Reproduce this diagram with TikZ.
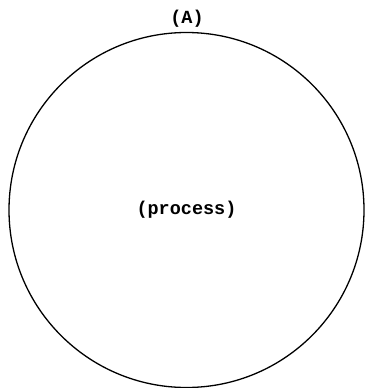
\documentclass[tikz,border=0pt]{standalone}
\usepackage{fontspec}
\newfontfamily\typefont{Liberation Mono}
\begin{document}
\begin{tikzpicture}[x=1pt,y=-1pt,
  lbl/.style={font=\typefont\bfseries\fontsize{18.5}{20}\selectfont, inner sep=0pt},
  proc/.style={circle, draw, line width=1.3pt, minimum size=355pt, inner sep=0pt}]
\useasboundingbox (0,0) rectangle (366,388);
\node[proc] (p) at (186.5,210) {};
\node[lbl] (t) at (p.center) {(process)};
\node[lbl] (a) at (187,19) {(A)};
\end{tikzpicture}
\end{document}
